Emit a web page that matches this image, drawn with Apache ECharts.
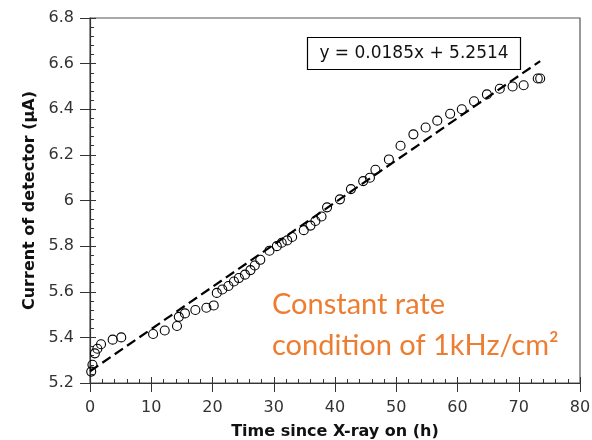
<!DOCTYPE html>
<html><head><meta charset="utf-8">
<script src="https://cdn.jsdelivr.net/npm/echarts@6/dist/echarts.min.js"></script>
<style>html,body{margin:0;padding:0;background:#fff}#c{width:592px;height:440px}</style>
</head><body><div id="c"></div>
<script>
const hours = [0.2,0.4,0.8,1.2,1.8,3.7,5.1,10.3,12.2,14.2,14.5,15.5,17.2,19.0,20.2,20.7,21.6,22.6,23.5,24.3,25.3,26.2,26.9,27.8,29.3,30.5,31.3,32.2,33.0,34.9,36.0,36.8,37.8,38.7,40.8,42.6,44.6,45.7,46.6,48.8,50.7,52.8,54.8,56.7,58.8,60.7,62.7,64.8,66.9,69.0,70.8,73.1,73.5];
const current = [5.25,5.28,5.33,5.35,5.37,5.39,5.40,5.415,5.43,5.45,5.49,5.505,5.52,5.53,5.54,5.595,5.61,5.625,5.645,5.66,5.675,5.695,5.715,5.74,5.78,5.80,5.815,5.825,5.84,5.87,5.89,5.91,5.93,5.97,6.005,6.05,6.085,6.10,6.135,6.18,6.24,6.29,6.32,6.35,6.38,6.40,6.435,6.465,6.49,6.50,6.505,6.535,6.535];
const fitSlope = 0.0185, fitIntercept = 5.2514;
const fitRange = [0, 73.5];
const xTicks = [0,10,20,30,40,50,60,70,80];
const yTicks = [5.2,5.4,5.6,5.8,6.0,6.2,6.4,6.6,6.8];
const equationText = 'y = 0.0185x + 5.2514';
const noteLines = ['Constant rate', 'condition of 1kHz/cm²'];

const fitData = fitRange.map(x => [x, fitIntercept + fitSlope * x]);
const chart = echarts.init(document.getElementById('c'));
const font = 'DejaVu Sans';
const axisCol = '#333';
const gridPos = {left: 90, top: 18, right: 12, bottom: 57, containLabel: false, outerBoundsMode: 'none'};
const xBase = {type: 'value', min: xTicks[0], max: xTicks[xTicks.length-1], interval: 10, position: 'bottom', splitLine: {show: false}};
const yBase = {type: 'value', min: yTicks[0], max: yTicks[yTicks.length-1], interval: 0.2, position: 'left', splitLine: {show: false}};
chart.setOption({
  animation: false,
  grid: [
    Object.assign({show: true, borderColor: '#555', borderWidth: 1.2}, gridPos),
    Object.assign({show: false}, gridPos)
  ],
  xAxis: [
    Object.assign({}, xBase, {
      gridIndex: 0,
      name: 'Time since X-ray on (h)', nameLocation: 'middle', nameGap: 41,
      nameTextStyle: {fontFamily: font, fontWeight: 'bold', fontSize: 16, color: '#111'},
      axisLine: {lineStyle: {color: axisCol, width: 1.2}},
      axisTick: {show: true, inside: false, length: 9, lineStyle: {color: axisCol, width: 1}},
      axisLabel: {fontFamily: font, fontSize: 16, color: '#333', margin: 17}
    }),
    Object.assign({}, xBase, {
      gridIndex: 1,
      axisLine: {show: false},
      axisTick: {show: true, inside: true, length: 6, lineStyle: {color: axisCol, width: 1}},
      minorTick: {show: true, splitNumber: 5, length: 4, lineStyle: {color: axisCol, width: 1}},
      axisLabel: {show: false}
    })
  ],
  yAxis: [
    Object.assign({}, yBase, {
      gridIndex: 0,
      name: 'Current of detector (µA)', nameLocation: 'middle', nameGap: 51, nameRotate: 90,
      nameTextStyle: {fontFamily: font, fontWeight: 'bold', fontSize: 16, color: '#111'},
      axisLine: {lineStyle: {color: axisCol, width: 1.2}},
      axisTick: {show: true, inside: false, length: 10, lineStyle: {color: axisCol, width: 1}},
      axisLabel: {fontFamily: font, fontSize: 16, color: '#333', margin: 16,
        formatter: v => String(+v.toFixed(1))}
    }),
    Object.assign({}, yBase, {
      gridIndex: 1,
      axisLine: {show: false},
      axisTick: {show: true, inside: true, length: 6, lineStyle: {color: axisCol, width: 1}},
      minorTick: {show: true, splitNumber: 5, length: 4, lineStyle: {color: axisCol, width: 1}},
      axisLabel: {show: false}
    })
  ],
  series: [
    {
      type: 'line', xAxisIndex: 0, yAxisIndex: 0, data: fitData, showSymbol: false, symbol: 'none', z: 2,
      lineStyle: {color: '#000', width: 2.2, type: [10, 5]}
    },
    {
      type: 'scatter', xAxisIndex: 0, yAxisIndex: 0, data: hours.map((h, i) => [h, current[i]]), symbol: 'circle', symbolSize: 9, z: 3,
      itemStyle: {color: 'rgba(255,255,255,0)', borderColor: '#000', borderWidth: 1.1, opacity: 1}
    }
  ],
  graphic: [
    {type: 'rect', shape: {x: 307.5, y: 37.5, width: 213, height: 32}, style: {fill: '#fff', stroke: '#000', lineWidth: 1.2}, z: 10},
    {type: 'text', x: 414, y: 54, style: {text: equationText, font: '17px "DejaVu Sans"', fill: '#111', textAlign: 'center', textVerticalAlign: 'middle'}, z: 11},
    {type: 'text', x: 272, y: 305, style: {text: noteLines[0], font: '29px Lato', fill: '#ED7D31', textVerticalAlign: 'middle'}, z: 11},
    {type: 'text', x: 272, y: 346, style: {text: noteLines[1], font: '29px Lato', fill: '#ED7D31', textVerticalAlign: 'middle'}, z: 11}
  ]
});
</script></body></html>
